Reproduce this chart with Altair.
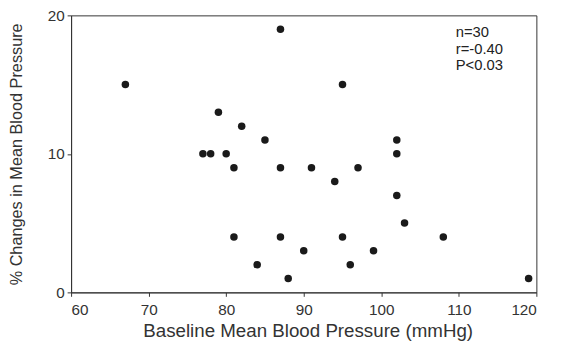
import altair as alt
import pandas as pd

baseline_mbp = [67, 77, 78, 79, 80, 81, 81, 82, 84, 85, 87, 87, 87, 88, 90,
                91, 94, 95, 95, 96, 97, 99, 102, 102, 102, 103, 108, 119]
change_mbp = [15, 10, 10, 13, 10, 9, 4, 12, 2, 11, 19, 9, 4, 1, 3,
              9, 8, 15, 4, 2, 9, 3, 11, 10, 7, 5, 4, 1]

stats_text = ["n=30", "r=-0.40", "P<0.03"]
stats_x = [109.6]
stats_y = [19.3]

df = pd.DataFrame({"x": baseline_mbp, "y": change_mbp})
ann = pd.DataFrame({"x": stats_x, "y": stats_y, "t": ["\n".join(stats_text)]})

font = "Liberation Sans"

xs = alt.Scale(domain=[60, 120], nice=False, zero=False)
ys = alt.Scale(domain=[0, 20], nice=False)

points = alt.Chart(df).mark_circle(size=58, color="#1a1a1a", opacity=1).encode(
    x=alt.X("x:Q", scale=xs,
            axis=alt.Axis(title="Baseline Mean Blood Pressure (mmHg)",
                          values=[60, 70, 80, 90, 100, 110, 120],
                          titleX=240, titleY=30, titleFontSize=19,
                          labelPadding=6)),
    y=alt.Y("y:Q", scale=ys,
            axis=alt.Axis(title="% Changes in Mean Blood Pressure",
                          values=[0, 10, 20], titleX=-47, titleFontSize=16.5)),
)

text = alt.Chart(ann).mark_text(
    align="left", baseline="top", font=font, fontSize=15, color="#222",
    lineBreak="\n", lineHeight=17
).encode(x="x:Q", y="y:Q", text="t:N")

chart = (points + text).properties(
    width=472, height=281,
    autosize=alt.AutoSizeParams(type="none"),
    padding={"left": 64, "top": 5, "right": 26, "bottom": 57},
).configure_view(
    stroke="#333", strokeWidth=1
).configure_axis(
    grid=False, domainColor="#333", tickColor="#333", tickSize=4,
    labelFont=font, labelFontSize=15.5, labelColor="#333", labelPadding=3,
    titleFont=font, titleColor="#333", titleFontWeight="normal",
)

chart.save("out.html", embed_options={"renderer": "svg", "actions": False})
